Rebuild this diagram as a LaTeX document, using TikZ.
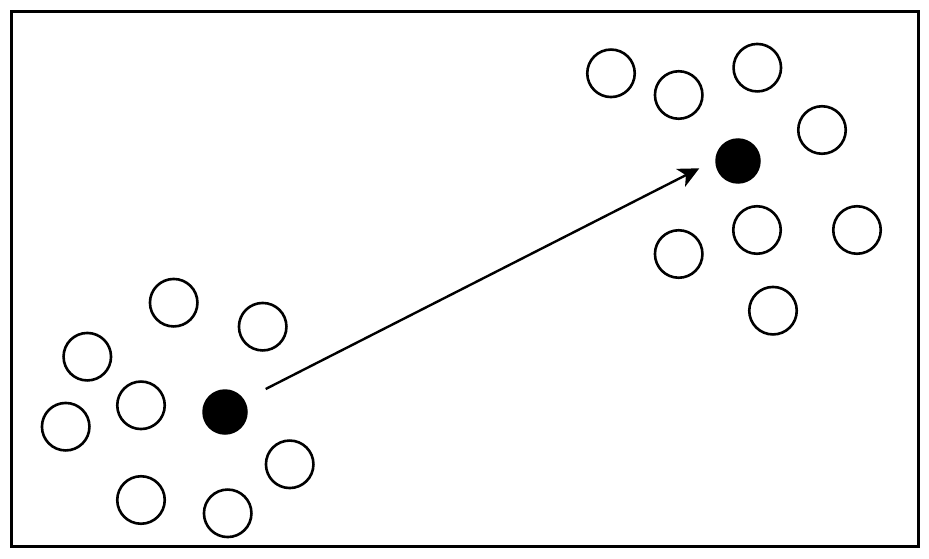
\documentclass[tikz,border=0pt]{standalone}
\usetikzlibrary{arrows.meta}
\begin{document}
\begin{tikzpicture}[x=1pt,y=-1pt,
  hollow/.style={circle,draw=black,line width=2.6pt,fill=white,minimum size=47.5pt,inner sep=0pt},
  solid/.style={circle,fill=black,minimum size=45.5pt,inner sep=0pt},
  conn/.style={line width=2.4pt,-{Stealth[length=21pt,width=20pt,inset=6pt]}}]
\useasboundingbox (0,0) rectangle (929,559);
\draw[line width=3pt] (11.5,12) rectangle (918.5,546);
% left cluster
\node[hollow] (l1) at (173.7,302.7) {};
\node[hollow] (l2) at (262.7,326.7) {};
\node[hollow] (l3) at (87.3,356.7) {};
\node[hollow] (l4) at (141,405.3) {};
\node[hollow] (l5) at (65.7,426.7) {};
\node[hollow] (l6) at (289.7,464.3) {};
\node[hollow] (l7) at (141,500) {};
\node[hollow] (l8) at (227.7,513.3) {};
\node[solid] (lc) at (225,412) {};
% right cluster
\node[hollow] (r1) at (611,73.3) {};
\node[hollow] (r2) at (678.7,95) {};
\node[hollow] (r3) at (757.3,67.7) {};
\node[hollow] (r4) at (822,130) {};
\node[hollow] (r5) at (757,230) {};
\node[hollow] (r6) at (857,230) {};
\node[hollow] (r7) at (678.7,254) {};
\node[hollow] (r8) at (773,310.7) {};
\node[solid] (rc) at (738,161) {};
\coordinate (s) at (265.7,389);
\coordinate (e) at (699.3,168.3);
\draw[conn] (s) -- (e);
\end{tikzpicture}
\end{document}
